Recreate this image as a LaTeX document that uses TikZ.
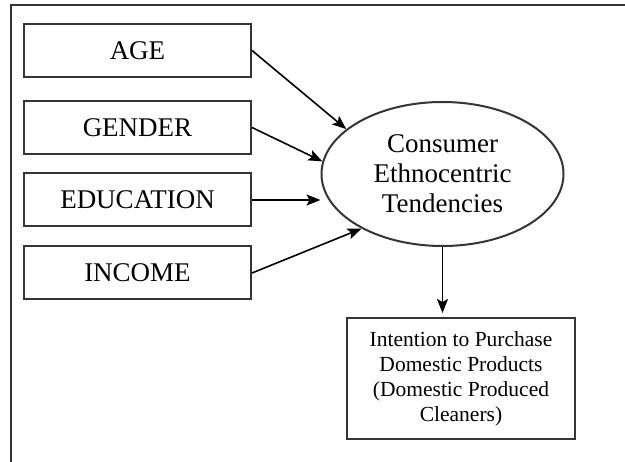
\documentclass[tikz,border=0pt]{standalone}
\usepackage{fontspec}
\setmainfont{Liberation Serif}
\usetikzlibrary{shapes.geometric,arrows.meta}
\definecolor{ink}{HTML}{353535}
\begin{document}
\begin{tikzpicture}[x=1pt,y=-1pt,
  line width=2pt,
  factor/.style={draw=ink,rectangle,minimum width=227pt,minimum height=53pt,inner sep=0pt,font=\fontsize{27}{31}\selectfont},
  arr/.style={draw=black,line width=1.6pt,-{Stealth[length=14pt,width=11pt,inset=3pt]}}]
\useasboundingbox (0,0) rectangle (625,462);
\fill[white] (0,0) rectangle (625,462);
\coordinate (fbl) at (11,462);
\coordinate (ftl) at (11,5);
\coordinate (ftr) at (625,5);
\draw[ink,line width=2.5pt] (fbl) -- (ftl) -- (ftr);
\node[factor] (age) at (137.5,50.5) {AGE};
\node[factor] (gender) at (137.5,127.5) {GENDER};
\node[factor] (edu) at (137.5,200) {EDUCATION};
\node[factor] (inc) at (137.5,273) {INCOME};
\node[draw=ink,ellipse,minimum width=242pt,minimum height=144pt,inner sep=0pt,align=center,font=\fontsize{27}{30}\selectfont] (ell) at (442.5,174) {Consumer\\Ethnocentric\\Tendencies};
\node[draw=ink,rectangle,minimum width=228pt,minimum height=121pt,inner sep=0pt,align=center,font=\fontsize{21.5}{25}\selectfont] (out) at (461,378.5) {Intention to Purchase\\Domestic Products\\(Domestic Produced\\Cleaners)};
\draw[arr] (age.east) -- (ell.155);
\draw[arr] (gender.east) -- (ell.174);
\draw[arr] (edu.east) -- (edu.east -| ell.west);
\draw[arr] (inc.east) -- (ell.214);
\draw[arr,shorten >=4pt] (ell.south) -- (ell.south |- out.north);
\end{tikzpicture}
\end{document}
